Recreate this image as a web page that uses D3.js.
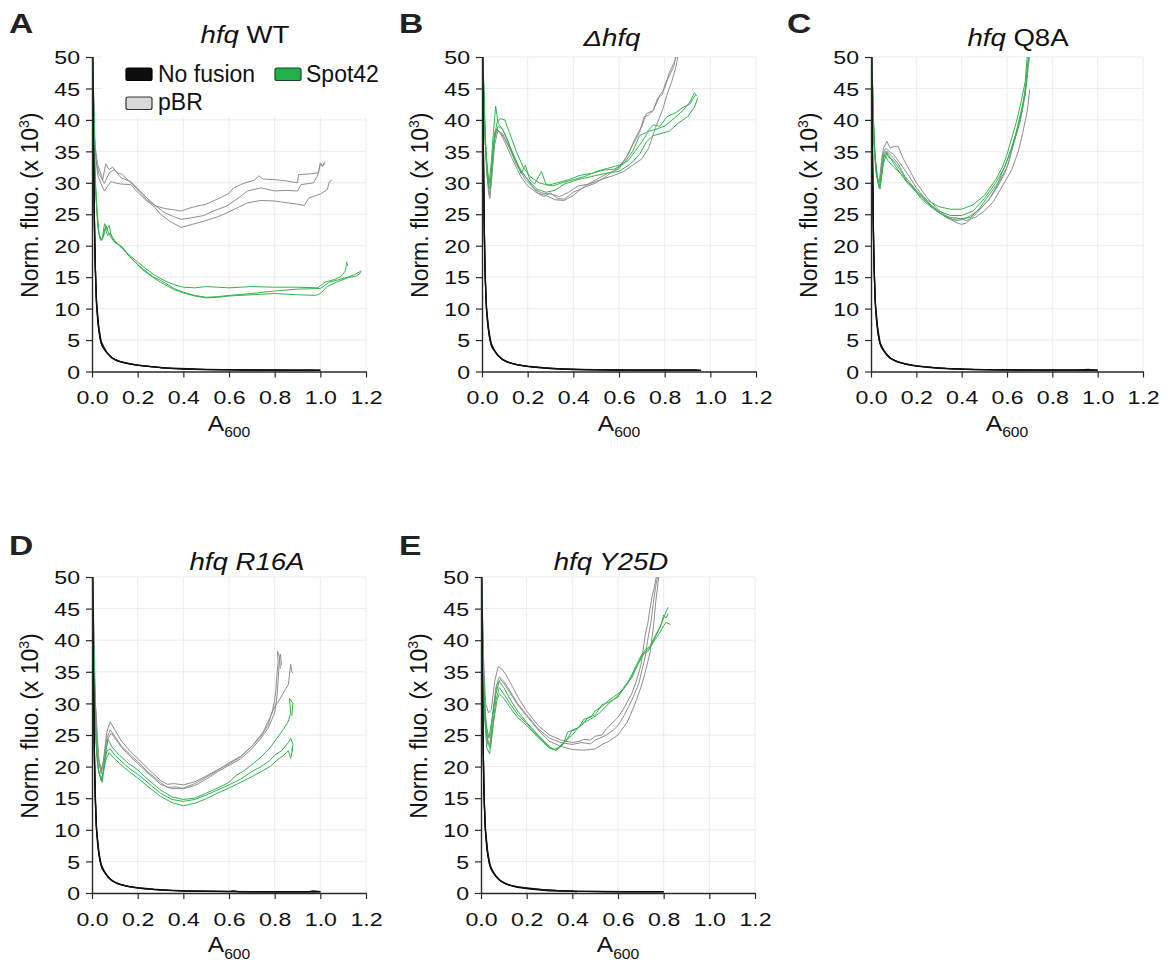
<!DOCTYPE html>
<html><head><meta charset="utf-8">
<script src="https://cdn.jsdelivr.net/npm/d3@7"></script>
<style>body{margin:0;background:#fff}</style>
</head><body>
<svg id="chart" width="1167" height="963"></svg>
<script>
// ---------- tick labels ----------
const xTickValues = [0, 0.2, 0.4, 0.6, 0.8, 1.0, 1.2];
const yTickValues = [0, 5, 10, 15, 20, 25, 30, 35, 40, 45, 50];
const seriesNames = ["No fusion", "pBR", "Spot42"];

// ---------- Panel A : hfq WT ----------
const A_none = [
 [[0.002,52],[0.006,38],[0.01,25],[0.015,16],[0.02,10.5],[0.03,6.5],[0.04,4.5],[0.05,3.8],[0.07,2.8],[0.09,2.1],[0.12,1.6],[0.16,1.3],[0.2,1.0],[0.25,0.8],[0.3,0.6],[0.4,0.4],[0.5,0.3],[0.6,0.25],[0.7,0.2],[0.8,0.2],[0.9,0.18],[1.0,0.2]],
 [[0.002,51],[0.007,33],[0.012,20],[0.018,12],[0.025,8],[0.035,5.2],[0.045,4.0],[0.06,3.2],[0.08,2.4],[0.1,1.9],[0.13,1.5],[0.18,1.1],[0.22,0.9],[0.28,0.7],[0.35,0.5],[0.45,0.35],[0.55,0.3],[0.7,0.25],[0.85,0.2],[0.97,0.2]],
 [[0.002,50.5],[0.005,40],[0.009,27],[0.014,17],[0.02,11],[0.03,7],[0.04,4.8],[0.05,4.0],[0.065,3.0],[0.085,2.2],[0.11,1.7],[0.15,1.3],[0.2,1.0],[0.27,0.75],[0.33,0.55],[0.42,0.45],[0.5,0.35],[0.65,0.25],[0.8,0.2],[1.0,0.2]]
];
const A_pbr = [
 [[0.003,52],[0.008,42],[0.013,36],[0.02,34],[0.025,32.9],[0.047,30.5],[0.06,33],[0.075,32.1],[0.09,32.5],[0.11,31.6],[0.13,31.4],[0.17,30],[0.2,28.9],[0.24,27.3],[0.28,26.3],[0.32,25.9],[0.36,25.7],[0.39,25.5],[0.42,25.9],[0.46,26.3],[0.5,26.6],[0.53,27.1],[0.56,27.6],[0.6,28.3],[0.62,29.2],[0.65,29.7],[0.68,30.1],[0.71,30.4],[0.73,31.1],[0.75,30.6],[0.8,30.5],[0.85,30.3],[0.9,30],[0.905,31.3],[0.95,31.4],[0.99,31.6],[1.0,32.9],[1.01,32.6],[1.02,33.4]],
 [[0.003,51],[0.01,38],[0.02,33],[0.03,31.5],[0.054,29.9],[0.076,31.6],[0.098,32.1],[0.127,30.8],[0.17,30.2],[0.2,29.1],[0.24,27.6],[0.28,26.3],[0.32,25.2],[0.36,24.6],[0.39,24.2],[0.43,24.4],[0.49,24.8],[0.53,25.5],[0.59,26.3],[0.63,27.3],[0.66,28.1],[0.68,28.7],[0.74,29.2],[0.8,28.7],[0.85,28.8],[0.9,28.7],[0.915,29.7],[0.97,30],[0.99,31.3],[1.0,33.2],[1.01,32.7],[1.02,33]],
 [[0.003,51],[0.012,36],[0.025,31.2],[0.04,29.8],[0.054,28.7],[0.083,30.2],[0.1,30],[0.127,29.8],[0.17,29.7],[0.2,28.5],[0.24,27.1],[0.27,26.3],[0.3,25],[0.34,23.9],[0.39,22.9],[0.44,23.4],[0.49,23.9],[0.55,24.6],[0.59,25.2],[0.64,26.1],[0.68,26.8],[0.74,27.2],[0.8,27.1],[0.86,26.8],[0.9,26.6],[0.93,26.4],[0.95,27.6],[1.0,28.2],[1.03,28.9],[1.04,30.2],[1.05,30.4]]
];
const A_spot = [
 [[0.003,52],[0.01,35],[0.02,26],[0.03,22],[0.036,21],[0.045,21.2],[0.055,23.5],[0.065,22.6],[0.075,23.2],[0.085,21.5],[0.1,20.8],[0.13,19.6],[0.17,18.3],[0.22,16.8],[0.27,15.4],[0.32,14.4],[0.36,13.8],[0.4,13.4],[0.45,13.3],[0.5,13.5],[0.55,13.4],[0.6,13.3],[0.7,13.5],[0.8,13.4],[0.9,13.4],[0.99,13.3],[1.02,14.2],[1.06,14.6],[1.09,15.1],[1.11,16],[1.115,17.4],[1.12,16.8]],
 [[0.003,51],[0.012,32],[0.025,23],[0.035,21.3],[0.045,21],[0.058,22.8],[0.068,21.6],[0.08,22],[0.1,20.6],[0.13,19.8],[0.17,18],[0.22,16.4],[0.27,15],[0.3,14.5],[0.36,13.2],[0.4,12.6],[0.45,12.1],[0.5,11.8],[0.55,11.9],[0.6,12.1],[0.7,12.4],[0.8,12.8],[0.9,13.1],[1.0,13.2],[1.04,14.2],[1.08,14.6],[1.12,15],[1.15,15.4],[1.18,16]],
 [[0.003,50.5],[0.015,29],[0.03,22],[0.04,20.8],[0.05,21.5],[0.062,23.2],[0.072,22],[0.085,21.2],[0.1,20.5],[0.13,19.9],[0.17,18.1],[0.22,16.2],[0.27,14.9],[0.3,14.2],[0.36,13],[0.4,12.5],[0.45,12],[0.5,11.7],[0.55,11.8],[0.6,12],[0.7,12.2],[0.8,12.4],[0.9,12.2],[0.98,12.1],[1.0,12.4],[1.03,13.5],[1.07,14.2],[1.12,14.9],[1.16,15.2],[1.18,15.8]]
];

// ---------- Panel B : Δhfq ----------
const B_none = [
 [[0.002,52],[0.006,36],[0.01,22],[0.015,14],[0.02,9.5],[0.03,6],[0.04,4.2],[0.05,3.5],[0.07,2.5],[0.09,1.9],[0.12,1.4],[0.16,1.0],[0.2,0.8],[0.25,0.6],[0.3,0.45],[0.4,0.3],[0.5,0.25],[0.6,0.2],[0.7,0.2],[0.8,0.2],[0.9,0.2],[0.95,0.2]],
 [[0.002,51],[0.007,31],[0.012,18],[0.018,11],[0.025,7.5],[0.035,5],[0.045,3.8],[0.06,3.0],[0.08,2.2],[0.1,1.7],[0.13,1.3],[0.18,0.9],[0.22,0.7],[0.28,0.55],[0.35,0.4],[0.45,0.3],[0.55,0.25],[0.7,0.2],[0.85,0.2],[0.94,0.2]],
 [[0.002,50.5],[0.005,38],[0.009,25],[0.014,15],[0.02,10],[0.03,6.5],[0.04,4.5],[0.05,3.7],[0.065,2.8],[0.085,2.0],[0.11,1.5],[0.15,1.1],[0.2,0.85],[0.27,0.6],[0.33,0.45],[0.42,0.35],[0.5,0.3],[0.65,0.22],[0.8,0.2],[0.96,0.2]]
];
const B_pbr = [
 [[0.003,52],[0.01,40],[0.02,32],[0.03,28],[0.035,27.5],[0.045,33],[0.055,38],[0.065,38.6],[0.08,38],[0.1,37],[0.13,35],[0.16,32.5],[0.2,30.5],[0.23,29],[0.25,28.2],[0.27,27.8],[0.3,28.4],[0.33,27.5],[0.36,27.4],[0.4,28.5],[0.45,29.3],[0.5,30],[0.55,31.2],[0.6,32.5],[0.63,34],[0.66,36],[0.69,38],[0.71,40.5],[0.73,40.8],[0.75,41.5],[0.77,43.5],[0.79,44],[0.8,45.5],[0.82,47],[0.84,48.5],[0.85,50.5]],
 [[0.003,51],[0.012,38],[0.025,30],[0.035,28],[0.05,35],[0.06,38.5],[0.075,38.2],[0.1,36.5],[0.13,34],[0.17,31],[0.2,29.5],[0.24,28.4],[0.28,28],[0.32,27.3],[0.36,27.2],[0.4,28],[0.45,29.5],[0.5,30.5],[0.55,31.5],[0.6,32.2],[0.64,34.5],[0.67,37],[0.7,39],[0.72,41],[0.75,41.5],[0.78,44],[0.8,45],[0.82,47.5],[0.84,49],[0.855,50.5]],
 [[0.003,51],[0.015,35],[0.03,29],[0.04,29.5],[0.055,36],[0.07,38.3],[0.09,37.8],[0.12,35.5],[0.15,33],[0.19,30.5],[0.23,29],[0.26,28.4],[0.3,28.2],[0.34,27.8],[0.38,28.5],[0.42,29.5],[0.47,29.8],[0.52,30.5],[0.58,31.2],[0.62,31.8],[0.66,32.8],[0.7,33.8],[0.73,35.5],[0.76,38.8],[0.79,41.5],[0.81,44],[0.83,46],[0.85,48.5],[0.86,50.5]]
];
const B_spot = [
 [[0.003,52],[0.01,42],[0.02,33],[0.03,29.5],[0.04,33],[0.05,38],[0.06,42.2],[0.07,39.5],[0.09,38.5],[0.12,36],[0.15,33.5],[0.17,31.5],[0.19,32.8],[0.21,30.5],[0.23,29.8],[0.26,31.8],[0.28,29.8],[0.31,29.5],[0.35,30],[0.4,30.5],[0.45,31],[0.5,31.8],[0.55,32.3],[0.6,32.8],[0.64,33.5],[0.67,35],[0.7,36.5],[0.73,38.2],[0.76,38.5],[0.8,39],[0.84,40.2],[0.88,41.5],[0.91,42.8],[0.93,44.3],[0.94,43.8]],
 [[0.003,51],[0.012,38],[0.025,30],[0.035,29],[0.05,36],[0.065,39.5],[0.08,40.2],[0.1,40],[0.12,38],[0.15,35],[0.18,32.5],[0.21,31],[0.25,30],[0.29,29.6],[0.33,30],[0.38,30.5],[0.43,31.2],[0.48,31.5],[0.53,32],[0.58,32.2],[0.62,33],[0.66,35],[0.69,37.5],[0.72,38],[0.75,39.2],[0.78,39],[0.81,40.5],[0.85,41.2],[0.88,42],[0.91,42.5],[0.935,44]],
 [[0.003,51],[0.015,36],[0.03,30],[0.04,31],[0.055,37],[0.07,39],[0.09,38.5],[0.11,37],[0.14,34],[0.17,32],[0.2,30.5],[0.24,29],[0.28,28.5],[0.32,28.8],[0.36,29.8],[0.42,30.5],[0.48,31],[0.54,31.5],[0.6,31.8],[0.65,33],[0.69,34.5],[0.72,36.5],[0.75,37.5],[0.78,37.8],[0.82,38.2],[0.86,39.5],[0.9,40.5],[0.93,42],[0.945,43.5]]
];

// ---------- Panel C : hfq Q8A ----------
const C_none = [
 [[0.002,52],[0.006,37],[0.01,23],[0.015,15],[0.02,10],[0.03,6.2],[0.04,4.4],[0.05,3.6],[0.07,2.6],[0.09,2.0],[0.12,1.5],[0.16,1.1],[0.2,0.85],[0.25,0.65],[0.3,0.5],[0.4,0.35],[0.5,0.3],[0.6,0.25],[0.7,0.22],[0.8,0.2],[0.9,0.2],[0.96,0.35],[0.98,0.2],[1.0,0.2]],
 [[0.002,51],[0.007,32],[0.012,19],[0.018,11.5],[0.025,7.8],[0.035,5.1],[0.045,3.9],[0.06,3.1],[0.08,2.3],[0.1,1.8],[0.13,1.4],[0.18,1.0],[0.22,0.8],[0.28,0.6],[0.35,0.45],[0.45,0.32],[0.55,0.28],[0.7,0.22],[0.85,0.2],[0.99,0.2]],
 [[0.002,50.5],[0.005,39],[0.009,26],[0.014,16],[0.02,10.5],[0.03,6.8],[0.04,4.6],[0.05,3.8],[0.065,2.9],[0.085,2.1],[0.11,1.6],[0.15,1.2],[0.2,0.9],[0.27,0.65],[0.33,0.5],[0.42,0.38],[0.5,0.3],[0.65,0.24],[0.8,0.2],[1.0,0.2]]
];
const C_pbr = [
 [[0.003,52],[0.01,40],[0.02,32],[0.035,29.5],[0.045,33],[0.055,35.5],[0.07,36.6],[0.085,35.5],[0.1,35.8],[0.12,35.8],[0.14,34],[0.17,32],[0.2,30],[0.25,27.5],[0.3,25.6],[0.35,24.2],[0.38,23.6],[0.4,23.4],[0.42,23.6],[0.45,24.6],[0.5,26.5],[0.53,27.8],[0.56,29.5],[0.59,31.5],[0.61,33.5],[0.63,36.5],[0.65,39],[0.67,42],[0.685,46],[0.695,50.5]],
 [[0.003,51],[0.012,37],[0.025,31],[0.04,30],[0.05,34.5],[0.065,35.5],[0.08,35],[0.1,34.5],[0.13,33],[0.16,31.5],[0.2,29.2],[0.25,27],[0.3,25.3],[0.34,24.3],[0.38,24],[0.41,24.2],[0.44,24.8],[0.48,25.8],[0.52,27.3],[0.56,29.8],[0.6,32.5],[0.62,35],[0.64,37.5],[0.66,40],[0.68,44],[0.69,47],[0.7,50.5]],
 [[0.003,51],[0.015,35],[0.03,30.5],[0.042,30.8],[0.055,34],[0.07,35],[0.09,34.3],[0.12,33],[0.15,31],[0.2,28.8],[0.25,26.8],[0.3,25.2],[0.35,24.5],[0.38,24.4],[0.42,24],[0.46,24.5],[0.5,25.5],[0.54,27],[0.58,29.5],[0.62,32],[0.65,35],[0.67,38],[0.69,41.5],[0.7,44.8]]
];
const C_spot = [
 [[0.003,52],[0.01,40],[0.02,33],[0.035,29.2],[0.045,30.5],[0.055,34.5],[0.065,35],[0.075,34.2],[0.1,33.5],[0.13,32],[0.16,30.2],[0.2,28.7],[0.25,27.2],[0.3,26.2],[0.35,25.8],[0.4,25.8],[0.45,26.5],[0.5,28],[0.55,30.5],[0.58,32.5],[0.6,34.5],[0.62,37],[0.64,39.5],[0.66,42.5],[0.68,46],[0.69,50.5]],
 [[0.003,51],[0.012,37],[0.025,31],[0.04,29],[0.05,32.5],[0.06,34.5],[0.075,33.5],[0.1,32.5],[0.13,31.5],[0.16,30],[0.2,28.5],[0.25,26.8],[0.3,25.5],[0.35,24.8],[0.4,24.8],[0.45,25.5],[0.5,27.5],[0.55,30],[0.59,32.5],[0.62,35.5],[0.64,38],[0.66,41],[0.68,44],[0.69,48.5],[0.7,50.5]],
 [[0.003,51],[0.015,35],[0.03,30],[0.04,29.5],[0.055,33],[0.07,34.8],[0.085,34],[0.11,32.5],[0.14,31],[0.18,29.5],[0.22,27.5],[0.27,26],[0.32,24.8],[0.36,24.2],[0.4,24.3],[0.44,24.5],[0.48,26],[0.52,28],[0.56,30],[0.6,33.5],[0.63,36.5],[0.65,39],[0.67,42.5],[0.685,46],[0.69,48]]
];

// ---------- Panel D : hfq R16A ----------
const D_none = [
 [[0.002,52],[0.006,36],[0.01,23],[0.015,15],[0.02,10],[0.03,6.2],[0.04,4.4],[0.05,3.6],[0.07,2.5],[0.09,1.9],[0.12,1.4],[0.16,1.0],[0.2,0.8],[0.25,0.6],[0.3,0.45],[0.4,0.3],[0.5,0.25],[0.6,0.22],[0.62,0.35],[0.64,0.2],[0.8,0.2],[0.95,0.2],[0.97,0.35],[1.0,0.2]],
 [[0.002,51],[0.007,31],[0.012,18],[0.018,11],[0.025,7.5],[0.035,5],[0.045,3.8],[0.06,3.0],[0.08,2.2],[0.1,1.7],[0.13,1.3],[0.18,0.9],[0.22,0.7],[0.28,0.55],[0.35,0.4],[0.45,0.3],[0.55,0.25],[0.7,0.2],[0.85,0.2],[0.99,0.2]],
 [[0.002,50.5],[0.005,38],[0.009,25],[0.014,15],[0.02,10],[0.03,6.5],[0.04,4.5],[0.05,3.7],[0.065,2.8],[0.085,2.0],[0.11,1.5],[0.15,1.1],[0.2,0.85],[0.27,0.6],[0.33,0.45],[0.42,0.35],[0.5,0.3],[0.65,0.22],[0.8,0.2],[1.0,0.2]]
];
const D_pbr = [
 [[0.003,51],[0.01,35],[0.02,25],[0.03,21],[0.04,19.2],[0.05,21],[0.065,25.5],[0.08,27.1],[0.1,25.8],[0.13,24],[0.17,22.3],[0.2,21.3],[0.25,19.5],[0.3,17.8],[0.33,17.2],[0.36,17.3],[0.4,17.1],[0.45,17.6],[0.5,18.5],[0.55,19.5],[0.6,20.4],[0.65,21.5],[0.7,23.2],[0.74,24.8],[0.77,26.5],[0.79,28.8],[0.8,30.5],[0.805,32],[0.81,34.5],[0.815,36.5],[0.812,38.3],[0.82,37.5],[0.825,35.5]],
 [[0.003,51],[0.012,32],[0.025,22],[0.04,18.8],[0.05,20.5],[0.065,24.5],[0.08,25.8],[0.1,24.8],[0.13,23.2],[0.17,21.8],[0.2,20.8],[0.25,19],[0.3,17.5],[0.33,16.7],[0.37,16.8],[0.4,16.5],[0.45,17],[0.5,18],[0.55,19.2],[0.6,20.2],[0.65,21.2],[0.7,22.8],[0.74,24.5],[0.77,26],[0.8,28.5],[0.81,31],[0.815,33.5],[0.82,36.5],[0.825,37.8],[0.83,36]],
 [[0.003,51],[0.015,30],[0.03,21],[0.042,19.5],[0.055,21.5],[0.07,24.5],[0.085,25.3],[0.1,24.5],[0.13,23],[0.17,21.5],[0.2,20.5],[0.25,18.8],[0.3,17.2],[0.35,16.5],[0.4,16.6],[0.45,17.3],[0.5,18.3],[0.55,19.4],[0.6,20.6],[0.65,21.6],[0.7,23.2],[0.75,25.5],[0.78,27.8],[0.8,29.5],[0.82,30.5],[0.84,31.8],[0.86,33],[0.87,36.2],[0.875,35],[0.88,34.8]]
];
const D_spot = [
 [[0.003,50],[0.01,32],[0.02,22],[0.03,19],[0.045,17.5],[0.055,21],[0.07,24.3],[0.09,23],[0.12,21.8],[0.16,20.5],[0.2,19.5],[0.25,17.8],[0.3,16.3],[0.35,15.2],[0.4,14.8],[0.45,15],[0.5,15.8],[0.55,16.6],[0.6,17.5],[0.63,18.6],[0.66,19.2],[0.7,20.3],[0.74,21.5],[0.78,23],[0.81,24.5],[0.84,26],[0.86,27.2],[0.87,28.5],[0.865,30.8],[0.88,30],[0.875,28]],
 [[0.003,49],[0.012,28],[0.025,20],[0.04,17.8],[0.05,19.5],[0.065,22.5],[0.08,22.8],[0.1,21.8],[0.13,20.8],[0.17,19.5],[0.2,18.8],[0.25,17.3],[0.3,15.8],[0.35,14.8],[0.4,14.5],[0.45,14.8],[0.5,15.5],[0.55,16.3],[0.6,17.1],[0.65,18],[0.7,19.2],[0.74,20],[0.78,21],[0.8,21.8],[0.83,22.5],[0.86,23.8],[0.87,24.5],[0.88,23.5],[0.875,22.5],[0.88,22.8]],
 [[0.003,48],[0.015,25],[0.03,19],[0.045,18],[0.06,21],[0.075,22.2],[0.1,21.2],[0.13,20.2],[0.17,19],[0.2,18.2],[0.25,16.7],[0.3,15.3],[0.35,14.3],[0.4,13.8],[0.45,14.2],[0.5,14.9],[0.55,15.8],[0.6,16.6],[0.65,17.5],[0.7,18.4],[0.74,19.2],[0.78,20],[0.81,21],[0.84,21.8],[0.86,22.5],[0.87,21.3],[0.88,23]]
];

// ---------- Panel E : hfq Y25D ----------
const E_none = [
 [[0.002,52],[0.006,35],[0.01,22],[0.015,14],[0.02,9.5],[0.03,6],[0.04,4.2],[0.05,3.4],[0.07,2.4],[0.09,1.8],[0.12,1.3],[0.16,0.9],[0.2,0.7],[0.25,0.5],[0.3,0.35],[0.36,0.3],[0.4,0.3],[0.42,0.2]],
 [[0.002,51],[0.007,30],[0.012,17],[0.018,10.5],[0.025,7.2],[0.035,4.8],[0.045,3.7],[0.06,2.9],[0.08,2.1],[0.1,1.6],[0.13,1.2],[0.18,0.85],[0.22,0.65],[0.28,0.5],[0.35,0.35],[0.45,0.25],[0.55,0.2],[0.7,0.2],[0.8,0.2]],
 [[0.002,50.5],[0.005,37],[0.009,24],[0.014,14.5],[0.02,9.8],[0.03,6.3],[0.04,4.4],[0.05,3.6],[0.065,2.7],[0.085,1.9],[0.11,1.4],[0.15,1.0],[0.2,0.8],[0.27,0.55],[0.33,0.4],[0.4,0.3],[0.5,0.25],[0.65,0.2],[0.8,0.2]]
];
const E_pbr = [
 [[0.003,51],[0.01,38],[0.02,30],[0.033,28.5],[0.045,29],[0.06,33.5],[0.075,35.8],[0.09,35.5],[0.11,34.5],[0.14,32.5],[0.17,30.5],[0.2,28.8],[0.25,26.5],[0.3,25],[0.35,24.2],[0.4,23.8],[0.43,24],[0.45,24.3],[0.48,24.2],[0.5,24.8],[0.53,25],[0.55,26],[0.6,27.8],[0.63,29.5],[0.66,31.5],[0.68,33.5],[0.7,36],[0.71,38.5],[0.72,41],[0.73,42.5],[0.74,45],[0.75,47],[0.76,48.5],[0.77,50.5]],
 [[0.003,50.5],[0.012,33],[0.025,25],[0.038,23],[0.05,28],[0.065,32.5],[0.08,34.2],[0.1,33.5],[0.13,31.8],[0.16,30],[0.2,28.2],[0.25,26],[0.3,24.5],[0.35,23.8],[0.4,23.5],[0.44,23.8],[0.48,23.6],[0.5,24.2],[0.55,25],[0.58,25.8],[0.6,26.5],[0.63,28.3],[0.66,30.5],[0.69,33],[0.71,36],[0.72,37.5],[0.73,40],[0.745,43],[0.755,46],[0.765,48.5],[0.775,50.5]],
 [[0.003,50.5],[0.015,30],[0.03,24],[0.04,23.5],[0.055,29],[0.07,33],[0.085,33.8],[0.1,33.2],[0.13,31.5],[0.16,29.8],[0.2,28],[0.25,25.8],[0.3,24],[0.35,23.2],[0.4,22.7],[0.45,22.6],[0.5,22.8],[0.53,23.5],[0.56,24],[0.6,25],[0.64,27],[0.67,29.5],[0.7,32.5],[0.72,35],[0.74,38],[0.755,42],[0.765,46],[0.775,49],[0.78,50.5]]
];
const E_spot = [
 [[0.003,50],[0.01,35],[0.02,27],[0.035,24.5],[0.05,28],[0.065,31.5],[0.08,33.5],[0.1,32.5],[0.13,30.5],[0.16,28.8],[0.2,27],[0.25,25],[0.3,23.2],[0.32,22.7],[0.35,23.2],[0.38,24.5],[0.4,25.8],[0.43,26.2],[0.45,27.5],[0.48,27.8],[0.5,28.8],[0.53,29.5],[0.56,30.5],[0.6,31.5],[0.63,32.5],[0.66,34.5],[0.68,36],[0.7,37.5],[0.72,38.5],[0.74,39],[0.76,40.5],[0.78,41.8],[0.8,43.5],[0.81,44.5],[0.82,45.2]],
 [[0.003,49],[0.012,30],[0.025,23],[0.038,22],[0.05,26],[0.065,30.5],[0.08,32.5],[0.1,31.5],[0.13,29.8],[0.16,28.3],[0.2,26.8],[0.25,24.8],[0.3,23],[0.33,22.6],[0.36,23.5],[0.38,25.5],[0.41,25.8],[0.44,26.5],[0.47,27.8],[0.5,28.2],[0.53,29.8],[0.56,30.2],[0.6,31],[0.63,32.8],[0.66,34],[0.69,36.5],[0.71,37.8],[0.73,38.2],[0.75,39.5],[0.77,41],[0.79,42.5],[0.8,44],[0.81,43.5],[0.82,44.2]],
 [[0.003,48],[0.015,28],[0.03,23.5],[0.042,23],[0.055,27],[0.07,30.5],[0.08,31.5],[0.1,30.8],[0.13,29.2],[0.16,27.8],[0.2,26.5],[0.25,24.6],[0.3,22.9],[0.33,22.6],[0.36,23.8],[0.4,25],[0.44,26.8],[0.48,27.5],[0.52,28.5],[0.56,30],[0.6,31.2],[0.64,33],[0.67,35],[0.7,37],[0.72,38.2],[0.74,38.8],[0.76,40],[0.78,41],[0.8,42.3],[0.81,42.8],[0.83,42.5]]
];

// ---------- panel titles ----------
const panelLetters = ["A", "B", "C", "D", "E"];
const panelTitles = [
  [["hfq", true], [" WT", false]],
  [["Δhfq", true]],
  [["hfq", true], [" Q8A", false]],
  [["hfq R16A", true]],
  [["hfq Y25D", true]]
];
const panelData = [
  [A_none, A_pbr, A_spot],
  [B_none, B_pbr, B_spot],
  [C_none, C_pbr, C_spot],
  [D_none, D_pbr, D_spot],
  [E_none, E_pbr, E_spot]
];

// ---------- layout / style (not data) ----------
const layout = [
  {left: 92,  right: 366,  top: 57,  bottom: 371.5, titleX: 245,  titleY: 43,  letterX: 9,   letterY: 33},
  {left: 482, right: 756,  top: 57,  bottom: 371.5, titleX: 612,  titleY: 46,  letterX: 399, letterY: 33},
  {left: 871, right: 1143, top: 57,  bottom: 371.5, titleX: 1018, titleY: 46,  letterX: 787, letterY: 33},
  {left: 92,  right: 366,  top: 577, bottom: 893,   titleX: 247,  titleY: 570, letterX: 9,   letterY: 555},
  {left: 481, right: 755,  top: 577, bottom: 893,   titleX: 611,  titleY: 570, letterX: 399, letterY: 555}
];
const lineColors = ["#111111", "#8e8e8e", "#34b34f"];
const lineWidths = [1.3, 1.0, 1.0];
const FONT = "'Liberation Sans', Arial, Helvetica, sans-serif";
const TICK_STRETCH = 1.25, TITLE_STRETCH = 1.2;

const svg = d3.select("#chart");
svg.append("rect").attr("width", 1167).attr("height", 963).attr("fill", "#fff");

const lineGen = (x, y) => d3.line().x(d => x(d[0])).y(d => y(d[1]));

panelData.forEach((series, pi) => {
  const L = layout[pi];
  const x = d3.scaleLinear().domain([0, 1.2]).range([L.left, L.right]);
  const y = d3.scaleLinear().domain([0, 50]).range([L.bottom, L.top]);
  const g = svg.append("g");

  // grid
  g.append("g").selectAll("line").data(xTickValues.filter(v => v > 0)).join("line")
    .attr("x1", d => x(d)).attr("x2", d => x(d)).attr("y1", L.top).attr("y2", L.bottom)
    .attr("stroke", "#ececec").attr("stroke-width", 1);
  g.append("g").selectAll("line").data(yTickValues.filter(v => v > 0)).join("line")
    .attr("x1", L.left).attr("x2", L.right).attr("y1", d => y(d)).attr("y2", d => y(d))
    .attr("stroke", "#ececec").attr("stroke-width", 1);

  // clip
  const cid = "clip" + pi;
  svg.append("clipPath").attr("id", cid).append("rect")
    .attr("x", L.left).attr("y", L.top).attr("width", L.right - L.left + 20).attr("height", L.bottom - L.top + 3);

  // legend background (panel A only) hides grid behind it
  if (pi === 0) {
    g.append("rect").attr("x", 102).attr("y", 50).attr("width", 290).attr("height", 67).attr("fill", "#fff");
  }

  // lines: pBR, Spot42, then No fusion on top
  const order = [1, 2, 0];
  const lg = g.append("g").attr("clip-path", `url(#${cid})`);
  order.forEach(si => {
    series[si].forEach(rep => {
      lg.append("path").datum(rep)
        .attr("d", lineGen(x, y))
        .attr("fill", "none")
        .attr("stroke", lineColors[si])
        .attr("stroke-width", lineWidths[si])
        .attr("stroke-linejoin", "round");
    });
  });

  // axes
  const xAxis = d3.axisBottom(x).tickValues(xTickValues).tickFormat(d3.format(".1f")).tickSize(6).tickSizeOuter(0);
  const yAxis = d3.axisLeft(y).tickValues(yTickValues).tickFormat(d3.format("d")).tickSize(6).tickSizeOuter(0);
  const gx = g.append("g").attr("transform", `translate(0,${L.bottom})`).call(xAxis);
  const gy = g.append("g").attr("transform", `translate(${L.left},0)`).call(yAxis);
  [gx, gy].forEach(ax => {
    ax.select(".domain").attr("stroke", "#2a2a2a").attr("stroke-width", 1.4);
    ax.selectAll(".tick line").attr("stroke", "#2a2a2a").attr("stroke-width", 1.2);
    ax.selectAll(".tick text").attr("font-family", FONT).attr("font-size", 18.5).attr("fill", "#111")
      .attr("transform", `scale(${TICK_STRETCH},1)`);
  });
  gx.selectAll(".tick text").attr("y", 19.4);
  gy.selectAll(".tick text").attr("x", -12 / TICK_STRETCH).attr("dy", "0.36em");

  // x label A600
  const xl = g.append("g").attr("transform", `translate(${(L.left + L.right) / 2},${L.bottom + 59})`)
    .append("text").attr("text-anchor", "middle").attr("font-family", FONT).attr("fill", "#111")
    .attr("transform", "scale(1.12,1)");
  xl.append("tspan").attr("font-size", 22).text("A");
  xl.append("tspan").attr("font-size", 14).attr("dy", 6.5).text("600");

  // y label
  const yl = g.append("g").attr("transform", `translate(${L.left - 54},${(L.top + L.bottom) / 2 - 9}) rotate(-90)`)
    .append("text").attr("text-anchor", "middle").attr("font-family", FONT).attr("font-size", 23).attr("fill", "#111");
  yl.append("tspan").text("Norm. fluo. (x 10");
  yl.append("tspan").attr("font-size", 14).attr("dy", -9).text("3");
  yl.append("tspan").attr("dy", 9).text(")");

  // title
  const tt = g.append("g").attr("transform", `translate(${L.titleX},${L.titleY})`)
    .append("text").attr("text-anchor", "middle").attr("font-family", FONT).attr("font-size", 23).attr("fill", "#111")
    .attr("transform", `scale(${TITLE_STRETCH},1)`);
  panelTitles[pi].forEach(([t, it]) => {
    tt.append("tspan").attr("font-style", it ? "italic" : "normal").text(t);
  });

  // panel letter
  g.append("g").attr("transform", `translate(${L.letterX},${L.letterY})`)
    .append("text").attr("font-family", FONT).attr("font-weight", "bold").attr("font-size", 28.5).attr("fill", "#222")
    .attr("transform", "scale(1.18,1)").text(panelLetters[pi]);
});

// legend (panel A)
const legendItems = [
  {name: seriesNames[0], fill: "#0d0d0d", stroke: "#000", x: 126, y: 68, tx: 158, ty: 82},
  {name: seriesNames[2], fill: "#21b04b", stroke: "#0b4d1e", x: 275, y: 68, tx: 306, ty: 82},
  {name: seriesNames[1], fill: "#d9d9d9", stroke: "#333", x: 126, y: 97, tx: 158, ty: 110}
];
const leg = svg.append("g");
legendItems.forEach(it => {
  leg.append("rect").attr("x", it.x).attr("y", it.y).attr("width", 26).attr("height", 12.5).attr("rx", 2)
    .attr("fill", it.fill).attr("stroke", it.stroke).attr("stroke-width", 1.2);
  leg.append("text").attr("x", it.tx).attr("y", it.ty).attr("font-family", FONT).attr("font-size", 23)
    .attr("fill", "#111").text(it.name);
});
</script>
</body></html>
